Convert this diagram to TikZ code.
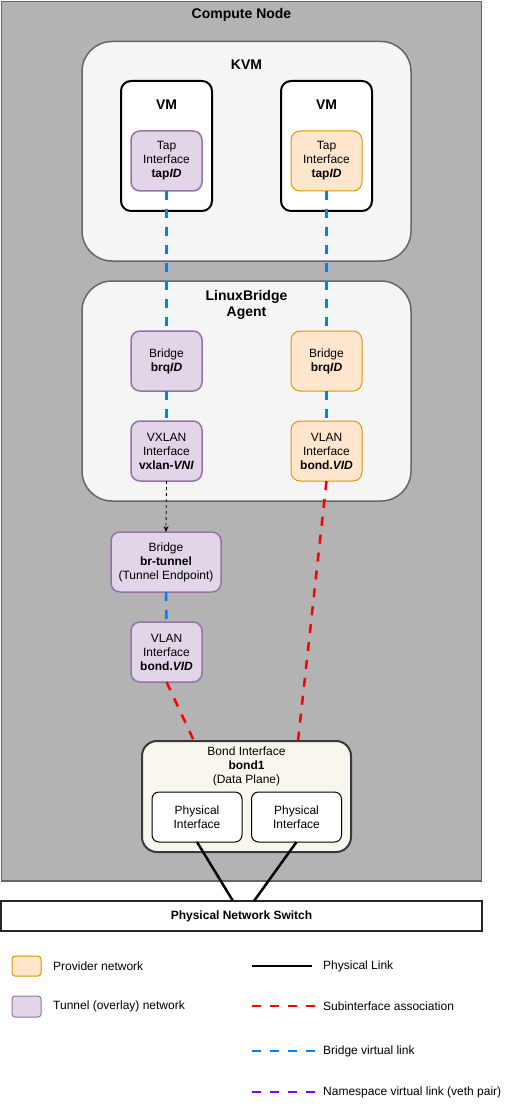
\documentclass[tikz,border=0pt]{standalone}
\usepackage{fontspec}
\setmainfont{Liberation Sans}
\usetikzlibrary{arrows.meta,calc}
\definecolor{cngray}{HTML}{B3B3B3}
\definecolor{cnborder}{HTML}{666666}
\definecolor{contfill}{HTML}{F5F5F5}
\definecolor{tunfill}{HTML}{E1D5E7}
\definecolor{tunline}{HTML}{9673A6}
\definecolor{provfill}{HTML}{FFE6CC}
\definecolor{provline}{HTML}{D79B00}
\definecolor{bondfill}{HTML}{F9F7ED}
\definecolor{bondline}{HTML}{36393D}
\definecolor{linkblue}{HTML}{007FFF}
\definecolor{linkred}{HTML}{FF0000}
\definecolor{linkpurple}{HTML}{7F00FF}
\tikzset{
  basebox/.style={inner sep=0pt, outer sep=0pt, align=center},
  container/.style={basebox, draw=cnborder, line width=1.5pt, fill=contfill, rounded corners=30pt},
  vmbox/.style={basebox, draw=black, line width=2pt, fill=white, rounded corners=10pt, minimum width=91pt, minimum height=130pt},
  tunbox/.style={basebox, draw=tunline, line width=1.5pt, fill=tunfill, rounded corners=9pt, minimum width=71pt, minimum height=60pt},
  provbox/.style={basebox, draw=provline, line width=1pt, fill=provfill, rounded corners=9pt, minimum width=71pt, minimum height=60pt},
  physbox/.style={basebox, draw=black, line width=1pt, fill=white, rounded corners=7pt, minimum width=90pt, minimum height=50pt},
  title/.style={inner sep=0pt, align=center, font=\fontsize{14}{16}\selectfont\bfseries},
  legtext/.style={inner sep=0pt, anchor=west},
  bluelink/.style={draw=linkblue, line width=2.5pt, dash pattern=on 9pt off 9pt},
  redlink/.style={draw=linkred, line width=2.5pt, dash pattern=on 9pt off 9pt},
  purplelink/.style={draw=linkpurple, line width=2.5pt, dash pattern=on 9pt off 9pt},
  physlink/.style={draw=black, line width=2.5pt},
  tunarrow/.style={draw=black, line width=0.8pt, dash pattern=on 3pt off 3pt, -{Stealth[length=6pt,width=5pt]}},
}
\begin{document}
\begin{tikzpicture}[x=1pt,y=-1pt, font=\fontsize{12}{14}\selectfont]
\fill[white] (0,0) rectangle (512,1107);
\useasboundingbox (0,0) rectangle (512,1107);

% Compute node
\node[basebox, draw=cnborder, line width=1.5pt, fill=cngray, minimum width=480pt, minimum height=879.5pt] (compute) at (241.5,441.25) {};
\node[title] (cnlbl) at (241.5,15) {Compute Node};

% KVM
\node[container, minimum width=329pt, minimum height=219.5pt] (kvm) at (246.5,151.25) {};
\node[title] (kvmlbl) at (246.5,65) {KVM};
\node[vmbox] (vmL) at (166.5,146) {};
\node[vmbox] (vmR) at (326.5,146) {};
\node[title] (vmLlbl) at (166.5,105) {VM};
\node[title] (vmRlbl) at (326.5,105) {VM};
\node[tunbox] (tapL) at (166.5,161) {Tap\\Interface\\\textbf{tap\textit{ID}}};
\node[provbox] (tapR) at (326.5,161) {Tap\\Interface\\\textbf{tap\textit{ID}}};

% LinuxBridge Agent
\node[container, minimum width=329pt, minimum height=220pt] (lba) at (246.5,391) {};
\node[title] (lbalbl) at (246.5,305) {LinuxBridge\\Agent};
\node[tunbox] (brL) at (166.5,361) {Bridge\\\textbf{brq\textit{ID}}};
\node[tunbox] (vxL) at (166.5,451) {VXLAN\\Interface\\\textbf{vxlan-\textit{VNI}}};
\node[provbox] (brR) at (326.5,361) {Bridge\\\textbf{brq\textit{ID}}};
\node[provbox] (vlR) at (326.5,451) {VLAN\\Interface\\\textbf{bond.\textit{VID}}};

% Tunnel side
\node[tunbox, minimum width=110pt] (brtun) at (166,562) {Bridge\\\textbf{br-tunnel}\\(Tunnel Endpoint)};
\node[tunbox] (vlL) at (166.5,652) {VLAN\\Interface\\\textbf{bond.\textit{VID}}};

% Bond
\node[basebox, draw=bondline, line width=2pt, fill=bondfill, rounded corners=15pt, minimum width=209pt, minimum height=111pt] (bond) at (246.5,796.5) {};
\node[inner sep=0pt, align=center] (bondlbl) at (246.5,766) {Bond Interface\\\textbf{bond1}\\(Data Plane)};
\node[physbox] (ph1) at (197,817) {Physical\\Interface};
\node[physbox] (ph2) at (296.5,817) {Physical\\Interface};

% Switch
\node[basebox, draw=black!85, line width=2pt, fill=white, minimum width=481pt, minimum height=30pt, font=\fontsize{12}{14}\selectfont\bfseries] (switch) at (241.5,916) {Physical Network Switch};

% Connectors
\draw[bluelink] (tapL.south) -- (brL.north);
\draw[bluelink] (tapR.south) -- (brR.north);
\draw[bluelink] (brL.south) -- (vxL.north);
\draw[bluelink] (brR.south) -- (vlR.north);
\draw[tunarrow] (vxL.south) -- (brtun.north);
\draw[bluelink] (brtun.south) -- (vlL.north);
\draw[redlink] (vlL.south) -- ($(bond.north west)+(52,0)$);
\draw[redlink] (vlR.south) -- ($(bond.north west)+(156,0)$);
\draw[physlink] (ph1.south) -- ($(switch.north west)+(232,0)$);
\draw[physlink] (ph2.south) -- ($(switch.north west)+(253,0)$);

% Legend
\node[basebox, draw=provline, line width=1pt, fill=provfill, rounded corners=3pt, minimum width=29pt, minimum height=20pt] (lgprov) at (26.5,966) {};
\node[legtext] (lgprovt) at (53,966) {Provider network};
\node[basebox, draw=tunline, line width=1pt, fill=tunfill, rounded corners=3pt, minimum width=29pt, minimum height=21pt] (lgtun) at (26.5,1006.5) {};
\node[legtext] (lgtunt) at (53,1006) {Tunnel (overlay) network};

\coordinate (lgA1) at (252,966); \coordinate (lgA2) at (312,966);
\coordinate (lgB1) at (252,1006); \coordinate (lgB2) at (315,1006);
\coordinate (lgC1) at (252,1051); \coordinate (lgC2) at (315,1051);
\coordinate (lgD1) at (252,1092); \coordinate (lgD2) at (315,1092);
\draw[physlink] (lgA1) -- (lgA2);
\draw[redlink] (lgB1) -- (lgB2);
\draw[bluelink] (lgC1) -- (lgC2);
\draw[purplelink] (lgD1) -- (lgD2);
\node[legtext] (lgAt) at (323,966) {Physical Link};
\node[legtext] (lgBt) at (323,1006) {Subinterface association};
\node[legtext] (lgCt) at (323,1051) {Bridge virtual link};
\node[legtext] (lgDt) at (323,1092) {Namespace virtual link (veth pair)};
\end{tikzpicture}
\end{document}
